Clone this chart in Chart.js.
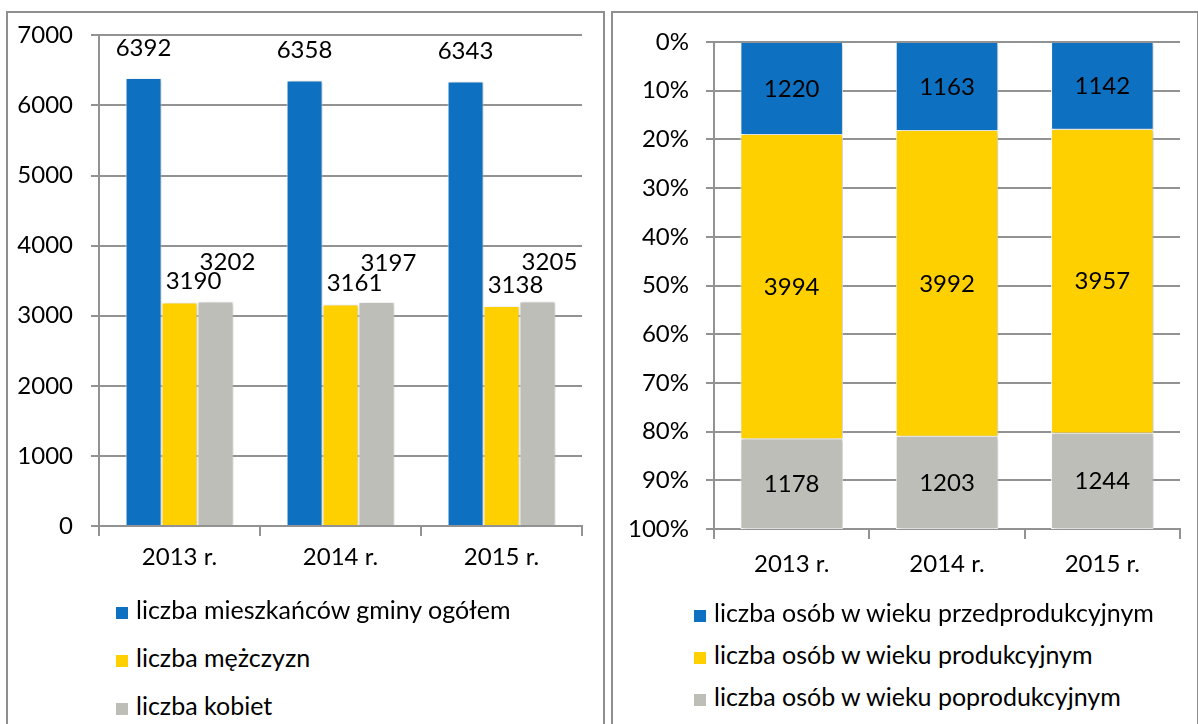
<!DOCTYPE html>
<html>
<head>
<meta charset="utf-8">
<script src="https://cdn.jsdelivr.net/npm/chart.js@4/dist/chart.umd.min.js"></script>
<style>
  body { margin: 0; background: #fff; width: 1198px; height: 724px; overflow: hidden; position: relative; font-family: Lato, sans-serif; }
  .box { position: absolute; border: 2px solid #8f8f8f; border-bottom: none; box-sizing: border-box; }
  #leftBox { left: 6px; top: 11px; width: 599px; height: 720px; }
  #rightBox { left: 611px; top: 11px; width: 588px; height: 720px; }
  .wrap { position: absolute; }
  #leftWrap { left: 8px; top: 3px; width: 595px; height: 595px; }
  #rightWrap { left: 613px; top: 3px; width: 585px; height: 595px; }
  .legItem { position: absolute; height: 30px; line-height: 30px; font-size: 25px; color: #000; white-space: nowrap; }
  .legItem i { display: inline-block; width: 12px; height: 12px; margin-right: 8px; vertical-align: 0px; }
</style>
</head>
<body>
<div class="box" id="leftBox"></div>
<div class="box" id="rightBox"></div>
<div class="wrap" id="leftWrap"><canvas id="leftChart"></canvas></div>
<div class="wrap" id="rightWrap"><canvas id="rightChart"></canvas></div>
<div id="legends"></div>

<script>
// categories
const years = ['2013 r.', '2014 r.', '2015 r.'];

// left chart: residents
const popLabels = ['liczba mieszkańców gminy ogółem', 'liczba mężczyzn', 'liczba kobiet'];
const total = [6392, 6358, 6343];
const men = [3190, 3161, 3138];
const women = [3202, 3197, 3205];

// right chart: age groups
const ageLabels = ['liczba osób w wieku przedprodukcyjnym', 'liczba osób w wieku produkcyjnym', 'liczba osób w wieku poprodukcyjnym'];
const preWorking = [1220, 1163, 1142];
const working = [3994, 3992, 3957];
const postWorking = [1178, 1203, 1244];

const leftTicks = [0, 1000, 2000, 3000, 4000, 5000, 6000, 7000];
const rightTicks = [0, 10, 20, 30, 40, 50, 60, 70, 80, 90, 100];

const colors = ['#0e70c0', '#ffd000', '#bebeb9'];
const gridColor = '#929292';

Chart.defaults.font.family = 'Lato, sans-serif';
Chart.defaults.font.size = 24;
Chart.defaults.color = '#000';

// soft shadow under the bars + value labels next to / inside them
const barLabels = {
  id: 'barLabels',
  beforeDatasetsDraw(chart) {
    const ctx = chart.ctx;
    ctx.save();
    ctx.shadowColor = 'rgba(0,0,0,0.22)';
    ctx.shadowBlur = 4;
    ctx.shadowOffsetX = 2;
    ctx.shadowOffsetY = 1;
  },
  afterDatasetsDraw(chart, args, opts) {
    const ctx = chart.ctx;
    ctx.restore();
    ctx.save();
    ctx.font = '24px Lato, sans-serif';
    ctx.fillStyle = '#000';
    ctx.textAlign = 'center';
    ctx.textBaseline = 'middle';
    chart.data.datasets.forEach((ds, i) => {
      const meta = chart.getDatasetMeta(i);
      meta.data.forEach((bar, j) => {
        const text = String(ds.counts ? ds.counts[j] : ds.data[j]);
        if (opts.mode === 'center') {
          ctx.fillText(text, bar.x, (bar.y + bar.base) / 2);
        } else {
          const off = opts.offsets[i];
          ctx.fillText(text, bar.x + off[0], bar.y + off[1]);
        }
      });
    });
    ctx.restore();
  }
};

// left chart
new Chart(document.getElementById('leftChart'), {
  type: 'bar',
  data: {
    labels: years,
    datasets: [
      { label: popLabels[0], data: total, backgroundColor: colors[0] },
      { label: popLabels[1], data: men, backgroundColor: colors[1] },
      { label: popLabels[2], data: women, backgroundColor: colors[2] },
    ].map(d => Object.assign(d, { borderColor: '#fff', borderWidth: 1, categoryPercentage: 0.67, barPercentage: 1 })),
  },
  options: {
    responsive: true,
    maintainAspectRatio: false,
    animation: false,
    layout: { padding: { top: 31, right: 21, bottom: 22, left: 0 } },
    plugins: {
      legend: { display: false },
      tooltip: { enabled: false },
      barLabels: { mode: 'top', offsets: [[0, -30], [14, -21], [12, -39]] },
    },
    scales: {
      x: {
        grid: { offset: true, drawOnChartArea: false, drawTicks: true, tickLength: 10, color: gridColor, lineWidth: 2 },
        border: { color: gridColor, width: 2 },
        ticks: { padding: 7 },
        afterFit: (s) => { s.height = 50; },
      },
      y: {
        min: 0,
        max: 7000,
        afterBuildTicks: (s) => { s.ticks = leftTicks.map(v => ({ value: v })); },
        grid: { color: gridColor, lineWidth: 2, tickLength: 8 },
        border: { color: gridColor, width: 2 },
        ticks: { padding: 18, callback: (v) => String(v) },
        afterFit: (s) => { s.width = 91; },
      },
    },
  },
  plugins: [barLabels],
});

// right chart: 100% stacked, built from the counts
const sums = years.map((y, i) => preWorking[i] + working[i] + postWorking[i]);
const pct = (arr) => arr.map((v, i) => v / sums[i] * 100);

new Chart(document.getElementById('rightChart'), {
  type: 'bar',
  data: {
    labels: years,
    datasets: [
      { label: ageLabels[0], data: pct(preWorking), counts: preWorking, backgroundColor: colors[0] },
      { label: ageLabels[1], data: pct(working), counts: working, backgroundColor: colors[1] },
      { label: ageLabels[2], data: pct(postWorking), counts: postWorking, backgroundColor: colors[2] },
    ].map(d => Object.assign(d, { borderColor: '#fff', borderWidth: 1, categoryPercentage: 0.66, barPercentage: 1 })),
  },
  options: {
    responsive: true,
    maintainAspectRatio: false,
    animation: false,
    layout: { padding: { top: 39, right: 18, bottom: 19, left: 0 } },
    plugins: {
      legend: { display: false },
      tooltip: { enabled: false },
      barLabels: { mode: 'center' },
    },
    scales: {
      x: {
        stacked: true,
        grid: { offset: true, drawOnChartArea: false, drawTicks: true, tickLength: 10, color: gridColor, lineWidth: 2 },
        border: { color: gridColor, width: 2 },
        ticks: { padding: 11 },
        afterFit: (s) => { s.height = 50; },
      },
      y: {
        stacked: true,
        reverse: true,
        min: 0,
        max: 100,
        afterBuildTicks: (s) => { s.ticks = rightTicks.map(v => ({ value: v })); },
        grid: { color: gridColor, lineWidth: 2, tickLength: 8 },
        border: { color: gridColor, width: 2 },
        ticks: { padding: 17, callback: (v) => v + '%' },
        afterFit: (s) => { s.width = 101; },
      },
    },
  },
  plugins: [barLabels],
});

// legends, one entry per row
function addLegend(labels, left, tops) {
  const holder = document.getElementById('legends');
  labels.forEach((txt, i) => {
    const row = document.createElement('div');
    row.className = 'legItem';
    row.style.left = left + 'px';
    row.style.top = (tops[i] - 15) + 'px';
    const sw = document.createElement('i');
    sw.style.background = colors[i];
    row.appendChild(sw);
    row.appendChild(document.createTextNode(txt));
    holder.appendChild(row);
  });
}
addLegend(popLabels, 116, [609, 657, 705]);
addLegend(ageLabels, 694, [612, 654, 696]);
</script>
</body>
</html>
